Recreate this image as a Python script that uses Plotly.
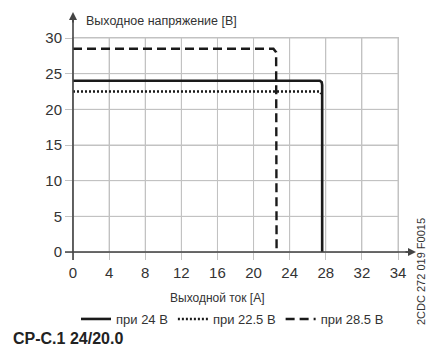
import plotly.graph_objects as go

# ---- data ----
x_24 = [0, 27.35, 27.55, 27.6, 27.6]
y_24 = [24, 24, 23.8, 23.4, 0]
x_225 = [0, 27.3, 27.5]
y_225 = [22.5, 22.5, 22.2]
x_285 = [0, 22.2, 22.5, 22.55]
y_285 = [28.5, 28.5, 28.0, 0]

x_tick_vals = [0, 4, 8, 12, 16, 20, 24, 28, 32, 36]
x_tick_text = ["0", "4", "8", "12", "16", "20", "24", "28", "32", "34"]
y_tick_vals = [0, 5, 10, 15, 20, 25, 30]

names = ["при 24 В", "при 22.5 В", "при 28.5 В"]

W, H = 433, 347
L, R, T, B = 73, 35, 38, 95
pw, ph = W - L - R, H - T - B

def px(xp):
    return (xp - L) / pw

def py(yp):
    return (H - B - yp) / ph

font_main = "Liberation Sans, Arial, sans-serif"
txt = "#333333"
grid = "#c2c2c2"
axc = "#444444"

x_lo, x_hi = x_tick_vals[0], x_tick_vals[-1]
y_lo, y_hi = y_tick_vals[0], y_tick_vals[-1]

# grid drawn as a background trace built from the tick lists
gx, gy = [], []
for v in x_tick_vals:
    gx += [v, v, None]
    gy += [y_lo, y_hi, None]
for v in y_tick_vals:
    gx += [x_lo, x_hi, None]
    gy += [v, v, None]

fig = go.Figure()
fig.add_trace(go.Scatter(x=gx, y=gy, mode="lines", showlegend=False,
                         hoverinfo="skip", line=dict(color=grid, width=1)))
fig.add_trace(go.Scatter(x=x_24, y=y_24, mode="lines", name=names[0],
                         line=dict(color="#1a1a1a", width=2.6)))
fig.add_trace(go.Scatter(x=x_225, y=y_225, mode="lines", name=names[1],
                         line=dict(color="#1a1a1a", width=2.4, dash="2px,2px")))
fig.add_trace(go.Scatter(x=x_285, y=y_285, mode="lines", name=names[2],
                         line=dict(color="#1a1a1a", width=2.4, dash="9px,5px")))

fig.update_layout(
    width=W, height=H,
    margin=dict(l=L, r=R, t=T, b=B, autoexpand=False),
    paper_bgcolor="white", plot_bgcolor="white",
    font=dict(family=font_main, color=txt, size=13),
    showlegend=True,
    legend=dict(orientation="h", x=px(76), xanchor="left", y=py(319), yanchor="middle",
                font=dict(size=13, color=txt), bgcolor="rgba(0,0,0,0)",
                itemwidth=30, tracegroupgap=0),
    xaxis=dict(range=[x_lo, x_hi], tickvals=x_tick_vals, ticktext=x_tick_text,
               showgrid=True, gridcolor=grid, gridwidth=1, zeroline=False,
               showline=True, mirror=True, linecolor=grid, linewidth=1,
               ticks="outside", ticklen=7, tickcolor=grid,
               tickfont=dict(size=15, color=txt), fixedrange=True),
    yaxis=dict(range=[y_lo, y_hi], tickvals=y_tick_vals,
               showgrid=True, gridcolor=grid, gridwidth=1, zeroline=False,
               showline=True, mirror=True, linecolor=grid, linewidth=1,
               ticks="outside", ticklen=7, tickcolor=grid,
               tickfont=dict(size=15, color=txt), fixedrange=True),
)

# axis lines (paper refs so they are not clipped)
fig.add_shape(type="line", xref="paper", yref="paper", x0=0, x1=0,
              y0=py(260), y1=py(18), line=dict(color=axc, width=1.6), layer="above")
fig.add_shape(type="line", xref="paper", yref="paper", x0=px(65), x1=px(410),
              y0=0, y1=0, line=dict(color=axc, width=1.6), layer="above")
# arrow heads
fig.add_annotation(xref="paper", yref="paper", x=0, y=py(12), ax=0, ay=12, text="",
                   showarrow=True, arrowhead=2, arrowsize=1, arrowwidth=1.6,
                   arrowcolor=axc)
fig.add_annotation(xref="paper", yref="paper", x=px(416), y=0, ax=-12, ay=0, text="",
                   showarrow=True, arrowhead=2, arrowsize=1, arrowwidth=1.6,
                   arrowcolor=axc)

# texts
fig.add_annotation(xref="paper", yref="paper", x=px(84), y=py(21), xanchor="left",
                   yanchor="middle", text="Выходное напряжение [В]", showarrow=False,
                   font=dict(size=12.5, color=txt))
fig.add_annotation(xref="paper", yref="paper", x=px(217), y=py(298), xanchor="center",
                   yanchor="middle", text="Выходной ток [A]", showarrow=False,
                   font=dict(size=12, color=txt))
fig.add_annotation(xref="paper", yref="paper", x=px(11), y=py(338), xanchor="left",
                   yanchor="middle", text="<b>CP-C.1 24/20.0</b>", showarrow=False,
                   font=dict(size=16, color="#222222"))
fig.add_annotation(xref="paper", yref="paper", x=px(421), y=py(272), xanchor="center",
                   yanchor="middle", text="2CDC 272 019 F0015", showarrow=False,
                   textangle=-90, font=dict(size=11, color=txt))

fig.write_html("out.html", config={"displayModeBar": False},
               post_script="document.body.style.margin='0';document.body.style.overflow='hidden';")
